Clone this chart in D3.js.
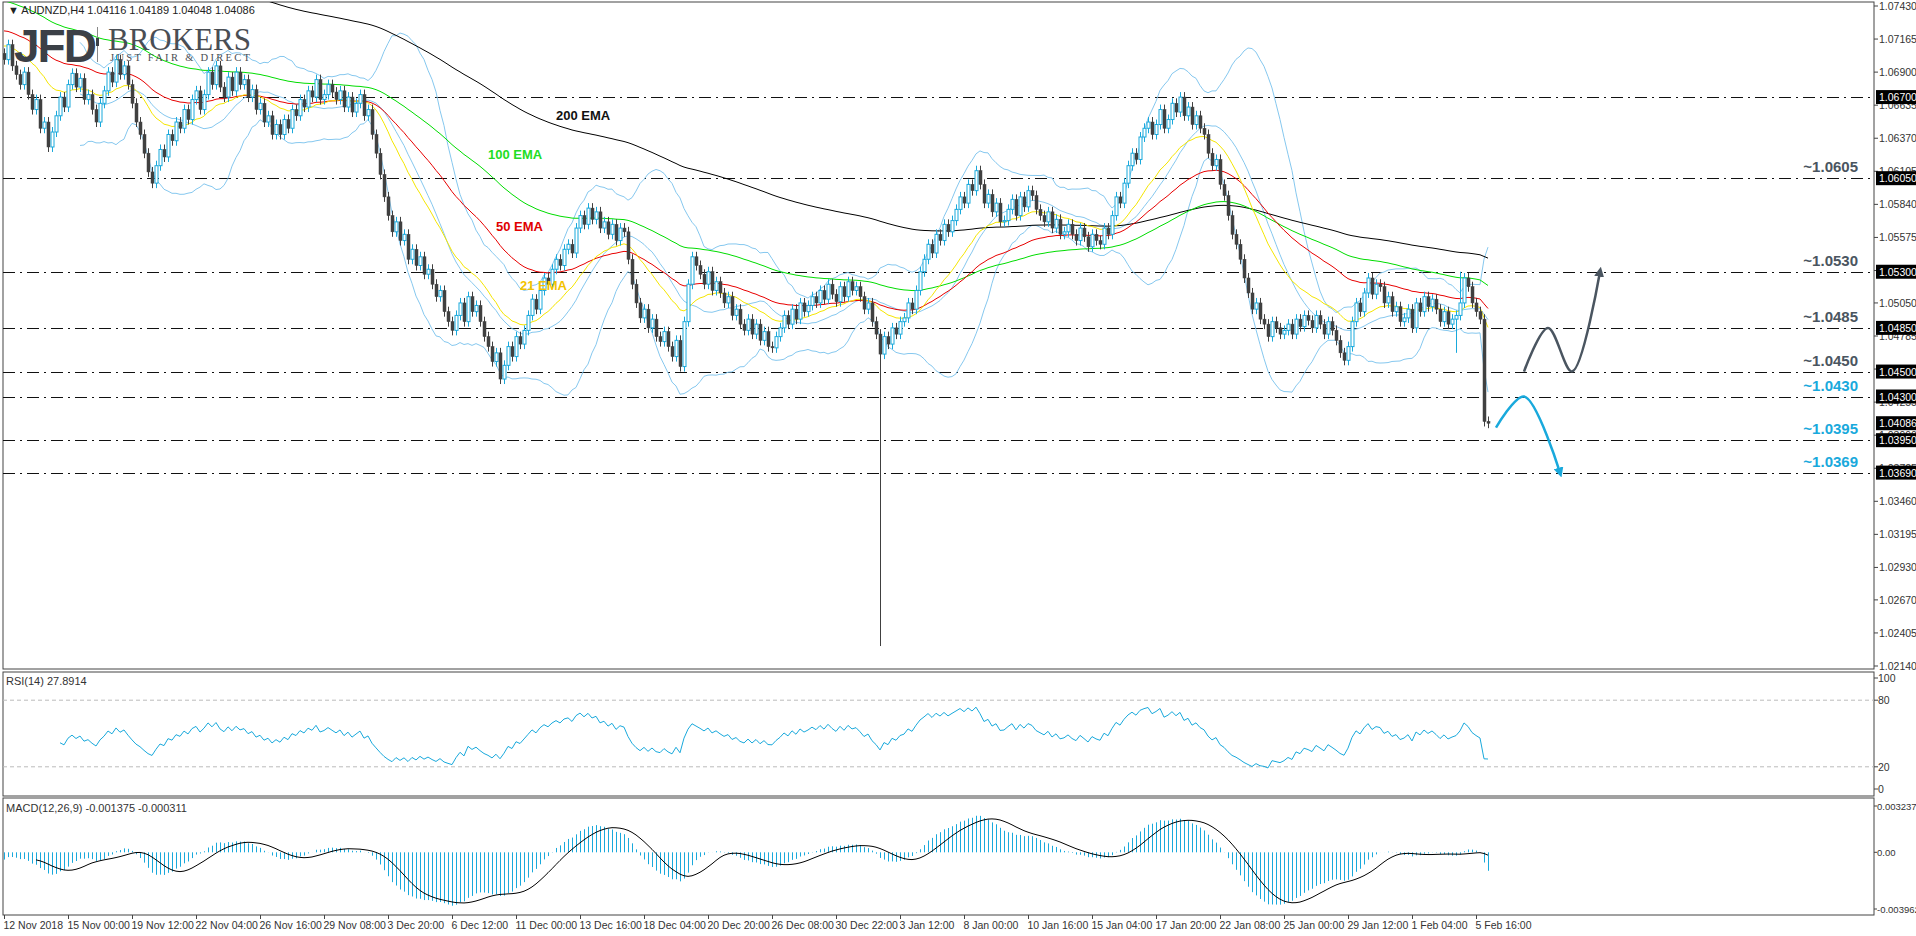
<!DOCTYPE html>
<html><head><meta charset="utf-8">
<script src="https://cdn.jsdelivr.net/npm/d3@7"></script>
<style>body{margin:0;background:#fff}svg{display:block;font-family:"Liberation Sans",Arial,sans-serif}</style>
</head><body><svg id="c" width="1916" height="936"></svg>
<script>
// closes as (price-1)*10000
const closes = [700,712,695,688,680,690,672,660,668,645,650,630,
642,655,670,662,680,689,
678,685,668,672,660,650,665,675,690,682,700,688,695,
680,665,650,640,625,610,601,
615,628,622,640,635,650,645,660,
652,668,675,660,672,690,680,695,678,670,686,675,690,680,684,
670,676,660,665,650,655,640,648,640,
652,645,660,655,668,662,675,670,684,668,672,680,674,
668,675,662,670,658,665,672,655,660,
640,625,608,590,575,562,
570,555,560,540,548,535,542,528,532,
520,510,515,498,490,483,
495,505,490,510,498,503,
490,478,470,458,465,444,
455,470,462,478,472,483,
495,508,500,515,525,520,532,
540,535,548,552,545,565,575,568,581,
572,578,565,570,560,568,555,565,562,
540,520,505,493,
500,485,492,478,474,
482,470,462,475,454,
490,520,542,
535,528,520,530,515,522,513,
505,510,495,500,488,483,
492,480,488,475,482,470,469,
478,485,495,488,500,492,505,498,503,
510,505,515,508,520,512,506,518,510,522,515,518,
510,500,505,490,480,464,
478,472,485,480,490,493,
505,500,515,530,540,552,
545,560,555,568,562,571,
580,590,585,600,595,611,
600,585,592,578,585,570,571,
580,588,575,590,582,595,591,
580,575,570,578,565,572,560,562,
568,560,555,565,558,550,560,555,552,
565,560,575,590,585,601,
615,625,620,638,645,650,
640,648,660,645,652,665,658,670,655,
662,648,655,645,640,
625,615,620,600,591,
575,560,552,540,525,513,
500,505,492,488,
478,490,485,480,483,
488,480,492,486,495,491,
485,495,488,480,490,483,
475,465,459,
470,490,505,498,513,
525,512,520,518,
505,510,498,502,490,493,
500,485,505,498,510,502,508,
500,490,498,488,492,495,
505,525,518,
505,498,492,410,408.6];
const firstOpen = 705;
const spikes = [{i:219, low:1.0230},{i:363, low:1.0465},{i:364, high:1.0530}];
const emaSeeds = {21:1.0712, 50:1.0724, 100:1.0748, 200:1.0825};
const levels = [1.0670,1.0605,1.0530,1.0485,1.0450,1.0430,1.0395,1.0369];
const levelLabels = [{v:1.0605,t:"~1.0605",c:"#4a5560"},{v:1.0530,t:"~1.0530",c:"#4a5560"},{v:1.0485,t:"~1.0485",c:"#4a5560"},{v:1.0450,t:"~1.0450",c:"#4a5560"},{v:1.0430,t:"~1.0430",c:"#19a9dc"},{v:1.0395,t:"~1.0395",c:"#19a9dc"},{v:1.0369,t:"~1.0369",c:"#19a9dc"}];
const boxLabels = ["1.06700","1.06050","1.05300","1.04850","1.04500","1.04300","1.04086","1.03950","1.03690"];
const priceTicks = ["1.07430","1.07165","1.06900","1.06635","1.06370","1.06105","1.05840","1.05575","1.05310","1.05050","1.04785","1.04520","1.04255","1.03990","1.03725","1.03460","1.03195","1.02930","1.02670","1.02405","1.02140"];
const dateLabels = ["12 Nov 2018","15 Nov 00:00","19 Nov 12:00","22 Nov 04:00","26 Nov 16:00","29 Nov 08:00","3 Dec 20:00","6 Dec 12:00","11 Dec 00:00","13 Dec 16:00","18 Dec 04:00","20 Dec 20:00","26 Dec 08:00","30 Dec 22:00","3 Jan 12:00","8 Jan 00:00","10 Jan 16:00","15 Jan 04:00","17 Jan 20:00","22 Jan 08:00","25 Jan 00:00","29 Jan 12:00","1 Feb 04:00","5 Feb 16:00"];
const emaLabels = [{t:"200  EMA",p:1.0652,xi:138,c:"#111"},{t:"100 EMA",p:1.0620,xi:121,c:"#22dd22"},{t:"50 EMA",p:1.0563,xi:123,c:"#e00000"},{t:"21 EMA",p:1.0515,xi:129,c:"#f2c200"}];
const upArrow = [[1.0450,380],[1.0485,386],[1.0450,392],[1.0530,399]];
const downArrow = [[1.0405,373],[1.0430,380],[1.0369,389]];

const svg = d3.select("#c");
const N = closes.length;
const P = closes.map(v=>1+v/10000);
const O = P.map((c,i)=> i? P[i-1] : 1+firstOpen/10000);
const H = P.map((c,i)=>Math.max(c,O[i])+0.0004), L = P.map((c,i)=>Math.min(c,O[i])-0.0004);
spikes.forEach(s=>{if(s.low)L[s.i]=s.low; if(s.high)H[s.i]=s.high;});
const x = d3.scaleLinear().domain([0,N-1]).range([4,4+4*(N-1)]);
const y = d3.scaleLinear().domain([1.02140,1.07430]).range([666,6]);
const XR = 1874;

[[3,2,669],[3,672,796],[3,798,915]].forEach(([a,t,b])=>svg.append("rect").attr("x",a).attr("y",t).attr("width",XR-a).attr("height",b-t).attr("fill","none").attr("stroke","#444"));
svg.append("clipPath").attr("id","cm").append("rect").attr("x",3).attr("y",2).attr("width",XR-3).attr("height",667);
const g = svg.append("g").attr("clip-path","url(#cm)");

levels.forEach(v=>g.append("line").attr("x1",3).attr("x2",XR).attr("y1",Math.round(y(v))+.5).attr("y2",Math.round(y(v))+.5).attr("stroke","#111").attr("stroke-dasharray","12,5,2,5"));

function ema(arr,n,seed){const k=2/(n+1);let e=seed;return arr.map(c=>(e=e+k*(c-e)));}
const line = d3.line().x((d,i)=>x(i)).y(d=>y(d)).defined(d=>d!=null);
const bbU=[],bbL=[],bbM=[];
P.forEach((c,i)=>{if(i<19){bbU.push(null);bbL.push(null);bbM.push(null);return;}const s=P.slice(i-19,i+1);const m=d3.mean(s);const sd=Math.sqrt(d3.mean(s.map(v=>(v-m)**2)));bbU.push(m+2*sd);bbL.push(m-2*sd);bbM.push(m);});
[bbU,bbL,bbM].forEach(a=>g.append("path").attr("d",line(a)).attr("fill","none").attr("stroke","#86c8ef").attr("stroke-width",1));
[[200,"#000"],[100,"#00dd00"],[50,"#e80000"],[21,"#f5e600"]].forEach(([n,c])=>g.append("path").attr("d",line(ema(P,n,emaSeeds[n]))).attr("fill","none").attr("stroke",c).attr("stroke-width",1));

P.forEach((c,i)=>{const up=c>=O[i];const col=up?"#19a9dc":"#404040";const cx=Math.round(x(i))+.5;
 g.append("line").attr("x1",cx).attr("x2",cx).attr("y1",y(H[i])).attr("y2",y(L[i])).attr("stroke",col);
 const t=y(Math.max(c,O[i])),b=y(Math.min(c,O[i]));
 g.append("rect").attr("x",cx-1.5).attr("y",t).attr("width",3).attr("height",Math.max(1,b-t)).attr("fill",up?"#fff":col).attr("stroke",col).attr("stroke-width",up?1:0.5);
});

emaLabels.forEach(d=>svg.append("text").attr("x",x(d.xi)).attr("y",y(d.p)).attr("fill",d.c).attr("font-size",13).attr("font-weight","bold").text(d.t));
levelLabels.forEach(d=>svg.append("text").attr("x",1858).attr("y",y(d.v)-6).attr("text-anchor","end").attr("fill",d.c).attr("font-size",15).attr("font-weight","bold").text(d.t));

svg.append("defs").html('<marker id="ag" viewBox="0 0 10 10" refX="5" refY="5" markerWidth="4" markerHeight="4" orient="auto"><path d="M0,0L10,5L0,10z" fill="#4a5560"/></marker><marker id="ab" viewBox="0 0 10 10" refX="5" refY="5" markerWidth="4" markerHeight="4" orient="auto"><path d="M0,0L10,5L0,10z" fill="#19a9dc"/></marker>');
const cl = d3.line().x(d=>x(d[1])).y(d=>y(d[0])).curve(d3.curveCatmullRom);
svg.append("path").attr("d",cl(upArrow)).attr("fill","none").attr("stroke","#4a5560").attr("stroke-width",2.5).attr("marker-end","url(#ag)");
svg.append("path").attr("d",cl(downArrow)).attr("fill","none").attr("stroke","#19a9dc").attr("stroke-width",2.5).attr("marker-end","url(#ab)");

const FS=10.5;
priceTicks.forEach(t=>{const yy=y(+t);svg.append("line").attr("x1",XR).attr("x2",XR+4).attr("y1",yy).attr("y2",yy).attr("stroke","#444");
 svg.append("text").attr("x",XR+5).attr("y",yy+4).attr("font-size",FS).attr("fill","#333").text(t);});
boxLabels.forEach(t=>{const yy=y(+t);svg.append("rect").attr("x",XR+2).attr("y",yy-7).attr("width",40).attr("height",14).attr("fill","#000");
 svg.append("text").attr("x",XR+5).attr("y",yy+4).attr("font-size",FS).attr("fill","#fff").text(t);});

svg.append("text").attr("x",8).attr("y",14).attr("font-size",11).attr("fill","#222").text("▼  AUDNZD,H4  1.04116 1.04189 1.04048 1.04086");
svg.append("text").attr("x",14).attr("y",62).attr("font-size",46).attr("font-weight","bold").attr("fill","#3b4047").attr("letter-spacing","-2").text("JFD");
svg.append("rect").attr("x",97).attr("y",27).attr("width",1).attr("height",35).attr("fill","#888");
svg.append("rect").attr("x",96).attr("y",38).attr("width",3).attr("height",8).attr("fill","#3b4047");
svg.append("text").attr("x",108).attr("y",50).attr("font-size",31).attr("fill","#4a4e54").attr("font-family","Liberation Serif, serif").text("BROKERS");
svg.append("text").attr("x",110).attr("y",61).attr("font-size",10.5).attr("fill","#4a4e54").attr("font-family","Liberation Serif, serif").attr("letter-spacing","2.3").text("JUST FAIR & DIRECT");

const yR = d3.scaleLinear().domain([0,100]).range([789,678]);
[80,20].forEach(v=>svg.append("line").attr("x1",3).attr("x2",XR).attr("y1",yR(v)).attr("y2",yR(v)).attr("stroke","#bbb").attr("stroke-dasharray","4,3"));
const rsi=new Array(N).fill(null);let ag=0,al=0;
for(let i=1;i<N;i++){const d=P[i]-P[i-1];const gn=Math.max(d,0),ls=Math.max(-d,0);
 if(i<=14){ag+=gn/14;al+=ls/14;} else {ag=(ag*13+gn)/14;al=(al*13+ls)/14;}
 if(i>=14)rsi[i]=al===0?100:100-100/(1+ag/al);}
svg.append("path").attr("d",d3.line().x((d,i)=>x(i)).y(d=>yR(d)).defined(d=>d!=null)(rsi)).attr("fill","none").attr("stroke","#19a9dc");
[["100",100],["80",80],["20",20],["0",0]].forEach(([t,v])=>{svg.append("line").attr("x1",XR).attr("x2",XR+4).attr("y1",yR(v)).attr("y2",yR(v)).attr("stroke","#444");svg.append("text").attr("x",XR+4).attr("y",yR(v)+4).attr("font-size",FS).attr("fill","#333").text(t);});
svg.append("text").attr("x",6).attr("y",685).attr("font-size",11).attr("fill","#333").text("RSI(14) 27.8914");

const e12=ema(P,12,P[0]-0.0006),e26=ema(P,26,P[0]);
const macd=P.map((c,i)=>e12[i]-e26[i]);
const sig=macd.map((m,i)=>i<8?null:d3.mean(macd.slice(i-8,i+1)));
const yM=d3.scaleLinear().domain([-0.003962,0.003237]).range([909,806]);
macd.forEach((m,i)=>svg.append("line").attr("x1",Math.round(x(i))+.5).attr("x2",Math.round(x(i))+.5).attr("y1",yM(0)).attr("y2",yM(m)).attr("stroke","#19a9dc"));
svg.append("path").attr("d",d3.line().x((d,i)=>x(i)).y(d=>yM(d)).defined(d=>d!=null)(sig)).attr("fill","none").attr("stroke","#000");
[["0.003237",0.003237],["0.00",0],["-0.003962",-0.003962]].forEach(([t,v])=>{svg.append("line").attr("x1",XR).attr("x2",XR+3).attr("y1",yM(v)).attr("y2",yM(v)).attr("stroke","#444");svg.append("text").attr("x",XR+3).attr("y",yM(v)+4).attr("font-size",9.5).attr("fill","#333").text(t);});
svg.append("text").attr("x",6).attr("y",812).attr("font-size",11).attr("fill","#333").text("MACD(12,26,9) -0.001375 -0.000311");

dateLabels.forEach((t,k)=>{const xx=Math.round(x(k*16))+.5;svg.append("line").attr("x1",xx).attr("x2",xx).attr("y1",915).attr("y2",919).attr("stroke","#444");
 svg.append("text").attr("x",xx-1).attr("y",929).attr("font-size",10.5).attr("fill","#333").text(t);});
</script></body></html>
